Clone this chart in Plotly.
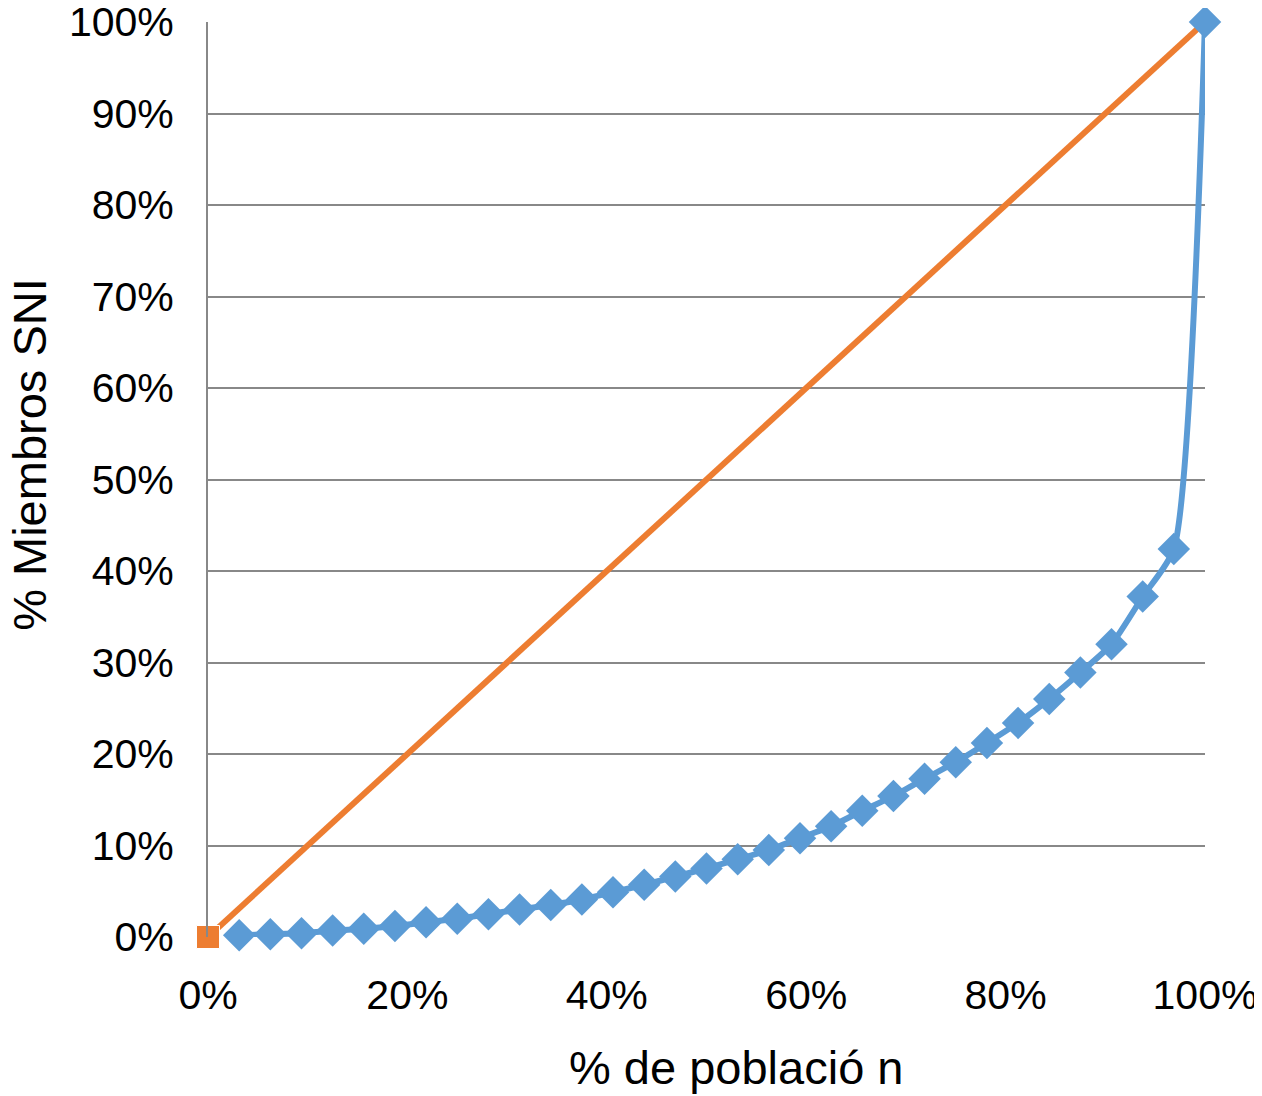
import plotly.graph_objects as go

# Data
poblacion = [k / 32 for k in range(1, 33)]
miembros = [0.002, 0.003, 0.004, 0.007, 0.009, 0.012, 0.016, 0.020, 0.025, 0.030,
            0.035, 0.041, 0.049, 0.057, 0.066, 0.075, 0.085, 0.095, 0.108, 0.121,
            0.138, 0.154, 0.173, 0.191, 0.212, 0.234, 0.260, 0.289, 0.320, 0.372,
            0.424, 1.000]
igualdad_x = [0.0, 1.0]
igualdad_y = [0.0, 1.0]

x_ticks = [0, 0.2, 0.4, 0.6, 0.8, 1.0]
y_ticks = [i / 10 for i in range(11)]

x_title = "% de població n"
y_title = "% Miembros SNI"

fig = go.Figure()
fig.add_trace(go.Scatter(
    x=igualdad_x, y=igualdad_y, mode="lines+markers",
    line=dict(color="#ED7D31", width=6),
    marker=dict(symbol="square", size=[23, 14], color="#ED7D31", opacity=1),
    cliponaxis=False, showlegend=False))
fig.add_trace(go.Scatter(
    x=poblacion, y=miembros, mode="lines+markers",
    line=dict(color="#5B9BD5", width=6, shape="spline", smoothing=0.6),
    marker=dict(symbol="diamond", size=25, color="#5B9BD5", opacity=1),
    cliponaxis=False, showlegend=False))

font_family = "Liberation Sans, Arial, sans-serif"
plot_h = 1088 - 14 - 159
fig.update_layout(
    width=1254, height=1088,
    margin=dict(l=200, r=57, t=14, b=159),
    paper_bgcolor="white", plot_bgcolor="white",
    font=dict(family=font_family, color="black"),
    xaxis=dict(range=[0, 1], tickvals=x_ticks, tickformat=".0%",
               automargin=False, ticklabeloverflow="allow",
               showgrid=False, zeroline=False, showline=False,
               ticks="outside", ticklen=0, tickcolor="white",
               ticklabelstandoff=22,
               tickfont=dict(size=41, family=font_family)),
    yaxis=dict(range=[0, 1], tickvals=y_ticks, tickformat=".0%",
               automargin=False, ticklabeloverflow="allow",
               showgrid=True, gridcolor="#888888", gridwidth=2,
               zeroline=False, showline=True, linecolor="#888888", linewidth=2,
               ticks="outside", ticklen=0, tickcolor="white",
               ticklabelstandoff=24,
               tickfont=dict(size=41, family=font_family)),
    annotations=[
        dict(text=x_title, xref="paper", yref="paper", x=0.53, y=-0.143,
             xanchor="center", yanchor="middle", showarrow=False,
             font=dict(size=47, family=font_family, color="black")),
        dict(text=y_title, xref="paper", yref="paper", x=-0.1785, y=0.527,
             xanchor="center", yanchor="middle", showarrow=False, textangle=-90,
             font=dict(size=47, family=font_family, color="black")),
    ],
)

fig.write_html("out.html")
